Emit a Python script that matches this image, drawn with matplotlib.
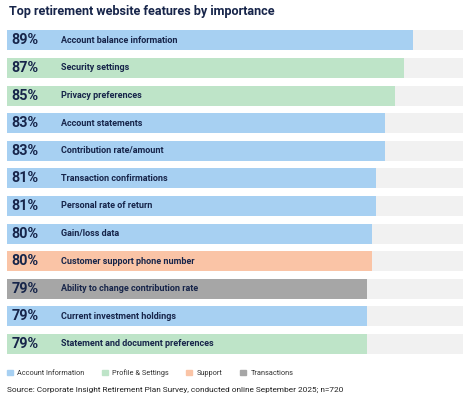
import matplotlib.pyplot as plt
from matplotlib.patches import Patch

plt.rcParams['font.family'] = ['Roboto', 'DejaVu Sans']

# Data
features = [
    "Account balance information",
    "Security settings",
    "Privacy preferences",
    "Account statements",
    "Contribution rate/amount",
    "Transaction confirmations",
    "Personal rate of return",
    "Gain/loss data",
    "Customer support phone number",
    "Ability to change contribution rate",
    "Current investment holdings",
    "Statement and document preferences",
]
values = [89, 87, 85, 83, 83, 81, 81, 80, 80, 79, 79, 79]
groups = [
    "Account Information", "Profile & Settings", "Profile & Settings",
    "Account Information", "Account Information", "Account Information",
    "Account Information", "Account Information", "Support",
    "Transactions", "Account Information", "Profile & Settings",
]
group_names = ["Account Information", "Profile & Settings", "Support", "Transactions"]
group_colors = {
    "Account Information": "#a7d0f2",
    "Profile & Settings": "#bee4c8",
    "Support": "#fac4a6",
    "Transactions": "#a6a6a6",
}
navy = "#17254a"

fig = plt.figure(figsize=(4.65, 4.0), dpi=100)
ax = fig.add_axes([7 / 465, 1 - 357.8 / 400, 456 / 465, 331.3 / 400])

y = list(range(len(features)))
ax.barh(y, [100] * len(y), height=0.725, color="#f1f1f1")
ax.barh(y, values, height=0.725, color=[group_colors[g] for g in groups])

for i, (v, name) in enumerate(zip(values, features)):
    ax.text(1.0, i, f"{v}%", va="center", ha="left", fontsize=10.4,
            fontweight="bold", color=navy)
    ax.text(11.8, i, name, va="center", ha="left", fontsize=6.5,
            fontweight="bold", color=navy)

ax.set_xlim(0, 100)
ax.set_ylim(len(y) - 0.5, -0.5)
ax.axis("off")

fig.text(9 / 465, 1 - 12 / 400, "Top retirement website features by importance",
         fontsize=9.1, fontweight="bold", color=navy, va="center", ha="left")

handles = [Patch(color=group_colors[g]) for g in group_names]
fig.legend(handles, group_names, loc="center left", ncol=4,
           bbox_to_anchor=(0 / 465, 1 - 373 / 400), frameon=False,
           fontsize=5.3, handlelength=0.8, handleheight=0.8,
           handletextpad=0.6, columnspacing=2.4, labelcolor="#333333")

fig.text(7 / 465, 1 - 390 / 400,
         "Source: Corporate Insight Retirement Plan Survey, conducted online September 2025; n=720",
         fontsize=5.95, color="#222222", va="center", ha="left")

fig.savefig("out.png", dpi=100)
